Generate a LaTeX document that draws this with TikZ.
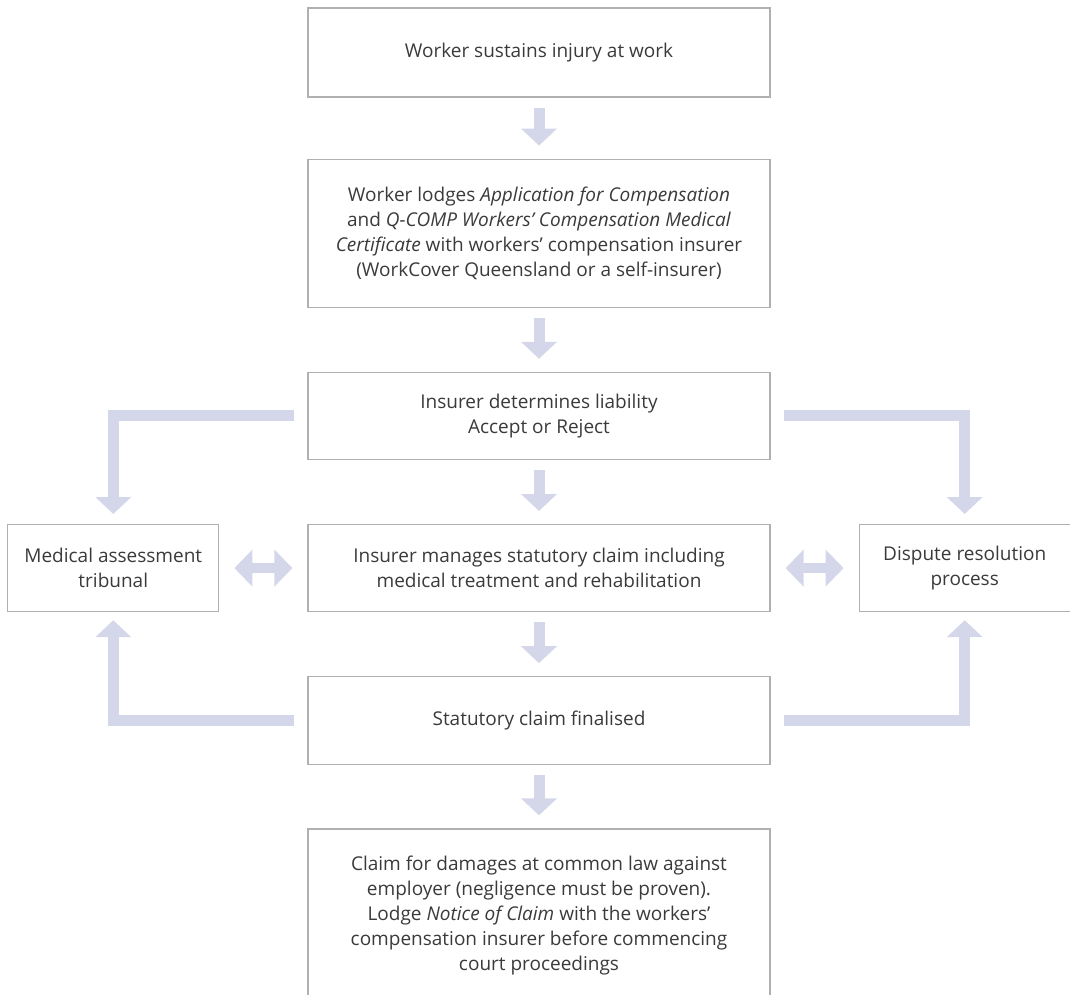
\documentclass[tikz,border=0pt]{standalone}
\usepackage{fontspec}
\setmainfont{Open Sans}
\usetikzlibrary{positioning}
\usetikzlibrary{arrows.meta}
\definecolor{boxgrey}{RGB}{176,176,176}
\definecolor{textgrey}{RGB}{58,58,58}
\definecolor{arrowblue}{RGB}{212,215,234}
\tikzstyle{mainnode} = [draw=boxgrey, line width=1.2pt, rectangle, minimum width=462pt, align=center, text=textgrey, font=\fontsize{19}{25}\selectfont]
\tikzstyle{sidenode} = [mainnode, minimum width=211pt, minimum height=87pt]
\tikzstyle{flowarrow} = [draw=arrowblue, line width=11pt, -{Triangle[width=35pt,length=17pt]}, shorten <=10pt, shorten >=13pt]
\tikzstyle{bothway} = [draw=arrowblue, line width=10pt, {Triangle[width=36pt,length=18pt]}-{Triangle[width=36pt,length=18pt]}, shorten <=15pt, shorten >=15pt]

\begin{document}
\begin{tikzpicture}[x=1pt, y=1pt]
  \clip (0,0) rectangle (1070,-994);

  \node[mainnode, minimum height=89pt] (injury) at (539,-52.5) {Worker sustains injury at work};
  \node[mainnode, minimum height=148pt, below=61pt of injury] (lodge)
    {Worker lodges \textit{Application for Compensation}\\
     and \textit{Q-COMP Workers' Compensation Medical}\\
     \textit{Certificate} with workers' compensation insurer\\
     (WorkCover Queensland or a self-insurer)};
  \node[mainnode, minimum height=87pt, below=64pt of lodge] (liability)
    {Insurer determines liability\\Accept or Reject};
  \node[mainnode, minimum height=87pt, below=64pt of liability] (manage)
    {Insurer manages statutory claim including\\medical treatment and rehabilitation};
  \node[mainnode, minimum height=88pt, below=64pt of manage] (final) {Statutory claim finalised};
  \node[mainnode, minimum height=172pt, below=63pt of final] (damages)
    {Claim for damages at common law against\\
     employer (negligence must be proven).\\
     Lodge \textit{Notice of Claim} with the workers'\\
     compensation insurer before commencing\\
     court proceedings};

  \node[sidenode, left=88pt of manage] (medical) {Medical assessment\\tribunal};
  \node[sidenode, right=88pt of manage] (dispute) {Dispute resolution\\process};

  \draw[flowarrow] (injury) -- (lodge);
  \draw[flowarrow] (lodge) -- (liability);
  \draw[flowarrow] (liability) -- (manage);
  \draw[flowarrow] (manage) -- (final);
  \draw[flowarrow] (final) -- (damages);

  \draw[flowarrow, shorten <=13pt, shorten >=10pt] (liability.west) -| (medical.north);
  \draw[flowarrow, shorten <=13pt, shorten >=10pt] (liability.east) -| (dispute.north);
  \draw[flowarrow, shorten <=13pt, shorten >=8pt] (final.west) -| (medical.south);
  \draw[flowarrow, shorten <=13pt, shorten >=8pt] (final.east) -| (dispute.south);

  \draw[bothway] (medical) -- (manage);
  \draw[bothway] (manage) -- (dispute);
\end{tikzpicture}
\end{document}
